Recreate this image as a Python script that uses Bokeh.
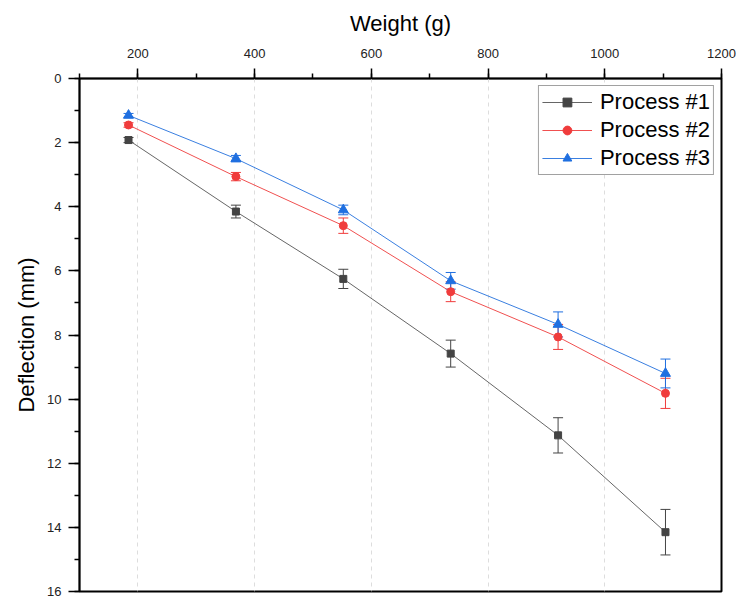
from bokeh.plotting import figure
from bokeh.models import (Range1d, SingleIntervalTicker, ColumnDataSource, Whisker,
                          TeeHead, Legend)
from bokeh.embed import file_html
from bokeh.resources import INLINE

# ---- data ----
weights = [184, 368, 552, 736, 920, 1104]
p1 = [1.92, 4.15, 6.25, 8.58, 11.13, 14.15]
p1_err = [0.08, 0.20, 0.30, 0.42, 0.55, 0.71]
p2 = [1.45, 3.06, 4.59, 6.65, 8.06, 9.82]
p2_err = [0.07, 0.13, 0.24, 0.31, 0.39, 0.47]
p3 = [1.15, 2.50, 4.10, 6.31, 7.67, 9.20]
p3_err = [0.06, 0.10, 0.15, 0.26, 0.39, 0.45]
labels = ["Process #1", "Process #2", "Process #3"]

FONT = "Liberation Sans"

p = figure(width=736, height=599, x_range=Range1d(100, 1200), y_range=Range1d(16, 0),
           x_axis_location="above", output_backend="svg", toolbar_location=None,
           min_border_left=79, min_border_right=15, min_border_top=78, min_border_bottom=8,
           background_fill_color="white", border_fill_color="white")
p.outline_line_color = "black"
p.outline_line_width = 2

xa = p.xaxis[0]
ya = p.yaxis[0]
xa.ticker = SingleIntervalTicker(interval=200, num_minor_ticks=2)
ya.ticker = SingleIntervalTicker(interval=2, num_minor_ticks=2)
xa.axis_label = "Weight (g)"
ya.axis_label = "Deflection (mm)"
for ax, tout in ((xa, 10), (ya, 11)):
    ax.axis_label_text_font = FONT
    ax.axis_label_text_font_style = "normal"
    ax.axis_label_text_font_size = "22px"
    ax.axis_label_text_color = "black"
    ax.major_label_text_font = FONT
    ax.major_label_text_font_size = "13px"
    ax.major_label_text_color = "#222222"
    ax.axis_line_color = "black"
    ax.axis_line_width = 1.5
    ax.major_tick_line_color = "black"
    ax.major_tick_line_width = 1.5
    ax.minor_tick_line_color = "black"
    ax.minor_tick_line_width = 1.5
    ax.major_tick_in = 0
    ax.minor_tick_in = 0
    ax.major_tick_out = tout
    ax.minor_tick_out = 5
xa.major_label_standoff = 11
xa.axis_label_standoff = 10
ya.major_label_standoff = 7
ya.axis_label_standoff = 5

p.ygrid.visible = False
p.xgrid.grid_line_color = "#dddddd"
p.xgrid.grid_line_dash = "4 4"
p.xgrid.grid_line_width = 1

series = [
    (p1, p1_err, "#444444", "#666666", "square", 7),
    (p2, p2_err, "#f03c3c", "#f05050", "circle", 8),
    (p3, p3_err, "#1f6fe0", "#3a7fe0", "triangle", 10),
]
items = []
for (vals, errs, col, lcol, marker, size), lab in zip(series, labels):
    src = ColumnDataSource(dict(x=weights, y=vals,
                                upper=[v - e for v, e in zip(vals, errs)],
                                lower=[v + e for v, e in zip(vals, errs)]))
    ln = p.line("x", "y", source=src, line_color=lcol, line_width=1)
    w = Whisker(base="x", upper="upper", lower="lower", source=src, dimension="height",
                line_color=col, line_width=1,
                upper_head=TeeHead(size=10, line_color=col, line_width=1),
                lower_head=TeeHead(size=10, line_color=col, line_width=1))
    p.add_layout(w)
    sc = p.scatter("x", "y", source=src, marker=marker, size=size,
                   fill_color=col, line_color=col)
    items.append((lab, [ln, sc]))

leg = Legend(items=items, location="top_right")
leg.label_text_font = FONT
leg.label_text_font_size = "22px"
leg.label_text_color = "black"
leg.glyph_width = 50
leg.glyph_height = 22
leg.label_height = 22
leg.label_standoff = 8
leg.spacing = 2
leg.padding = 3
leg.margin = 7
leg.border_line_color = "#444444"
leg.border_line_width = 1
leg.background_fill_color = "white"
leg.background_fill_alpha = 1
p.add_layout(leg)

open("out.html", "w").write(file_html(p, INLINE))
